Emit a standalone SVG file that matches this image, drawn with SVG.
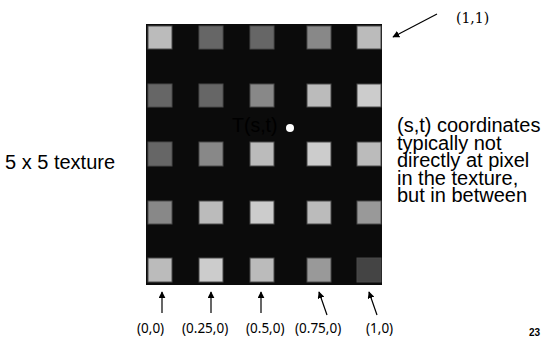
<svg xmlns="http://www.w3.org/2000/svg" width="547" height="343" viewBox="0 0 547 343">
  <style>
    .px { stroke: #4a4a4a; stroke-width: 1; }
    .sans { font-family: "Liberation Sans", Arial, sans-serif; fill: #000; }
    .lbl { font-family: "Noto Sans", "DejaVu Sans", sans-serif; font-size: 13.5px; fill: #000; }
    .conn { stroke: #000; stroke-width: 1.2; fill: none; marker-end: url(#ah); }
  </style>
  <defs>
    <marker id="ah" viewBox="0 0 10 10" refX="9" refY="5" markerWidth="7" markerHeight="7" markerUnits="userSpaceOnUse" orient="auto">
      <path d="M0,0 L10,5 L0,10 z" fill="#000"/>
    </marker>
  </defs>
  <rect width="547" height="343" fill="#fff"/>

  <g id="texture">
    <rect x="146" y="24" width="236" height="261" fill="#0b0b0b"/>
    <g class="px">
      <rect x="148" y="26" width="24" height="23" fill="#bbbbbb"/>
      <rect x="199" y="26" width="24" height="23" fill="#666666"/>
      <rect x="250" y="26" width="24" height="23" fill="#666666"/>
      <rect x="307" y="26" width="24" height="23" fill="#888888"/>
      <rect x="357" y="26" width="24" height="23" fill="#bbbbbb"/>

      <rect x="148" y="84" width="24" height="23" fill="#666666"/>
      <rect x="199" y="84" width="24" height="23" fill="#666666"/>
      <rect x="250" y="84" width="24" height="23" fill="#888888"/>
      <rect x="307" y="84" width="24" height="23" fill="#bbbbbb"/>
      <rect x="357" y="84" width="24" height="23" fill="#cccccc"/>

      <rect x="148" y="142" width="24" height="24" fill="#666666"/>
      <rect x="199" y="142" width="24" height="24" fill="#888888"/>
      <rect x="250" y="142" width="24" height="24" fill="#bbbbbb"/>
      <rect x="307" y="142" width="24" height="24" fill="#cccccc"/>
      <rect x="357" y="142" width="24" height="24" fill="#bbbbbb"/>

      <rect x="148" y="201" width="24" height="23" fill="#888888"/>
      <rect x="199" y="201" width="24" height="23" fill="#bbbbbb"/>
      <rect x="250" y="201" width="24" height="23" fill="#cccccc"/>
      <rect x="307" y="201" width="24" height="23" fill="#bbbbbb"/>
      <rect x="357" y="201" width="24" height="23" fill="#999999"/>

      <rect x="148" y="258" width="24" height="24" fill="#bbbbbb"/>
      <rect x="199" y="258" width="24" height="24" fill="#cccccc"/>
      <rect x="250" y="258" width="24" height="24" fill="#bbbbbb"/>
      <rect x="307" y="258" width="24" height="24" fill="#999999"/>
      <rect x="357" y="258" width="24" height="24" fill="#444444"/>
    </g>
  </g>

  <g id="sample">
    <text class="sans" x="232" y="132" font-size="19.5">T(s,t)</text>
    <circle cx="290" cy="128" r="4" fill="#fff"/>
  </g>

  <g id="title">
    <text class="sans" x="5" y="169" font-size="20">5 x 5 texture</text>
  </g>

  <g id="note">
    <text class="sans" font-size="20">
      <tspan x="397" y="132">(s,t) coordinates</tspan>
      <tspan x="397" y="149.5">typically not</tspan>
      <tspan x="397" y="167">directly at pixel</tspan>
      <tspan x="397" y="184.5">in the texture,</tspan>
      <tspan x="397" y="202">but in between</tspan>
    </text>
  </g>

  <g id="corner-label">
    <text x="456" y="23" font-family="'DejaVu Serif', 'Liberation Serif', serif" font-size="14" fill="#000">(1,1)</text>
  </g>

  <g id="bottom-labels">
    <text class="lbl" x="137" y="333">(0,0)</text>
    <text class="lbl" x="182" y="333">(0.25,0)</text>
    <text class="lbl" x="246" y="333">(0.5,0)</text>
    <text class="lbl" x="295" y="333">(0.75,0)</text>
    <text class="lbl" x="366" y="333">(1,0)</text>
  </g>

  <g id="page-number">
    <text x="529" y="336" font-family="'Liberation Sans', Arial, sans-serif" font-size="10" font-weight="bold" fill="#000">23</text>
  </g>

  <g id="connectors">
    <line class="conn" x1="437" y1="14" x2="393" y2="37"/>
    <line class="conn" x1="162" y1="313" x2="162" y2="292"/>
    <line class="conn" x1="211" y1="313" x2="211" y2="292"/>
    <line class="conn" x1="261" y1="313" x2="261" y2="292"/>
    <line class="conn" x1="327" y1="315" x2="319" y2="292"/>
    <line class="conn" x1="377" y1="315" x2="369" y2="292"/>
  </g>
</svg>
